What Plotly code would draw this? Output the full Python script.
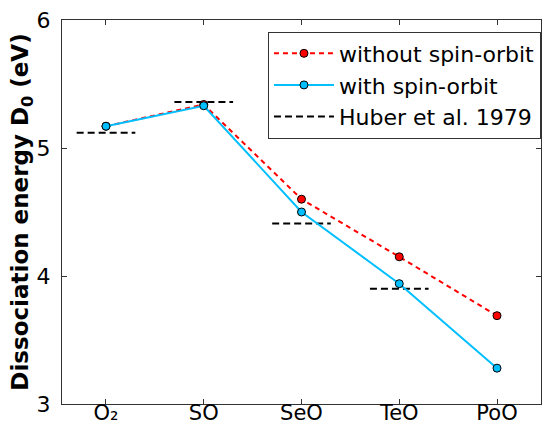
import plotly.graph_objects as go

# molecules and dissociation energies D0 (eV)
molecules = ["O\u2082", "SO", "SeO", "TeO", "PoO"]
without_so = [5.17, 5.34, 4.60, 4.15, 3.69]
with_so = [5.17, 5.33, 4.50, 3.94, 3.28]
huber_1979 = [5.12, 5.36, 4.41, 3.90, None]

pos = list(range(len(molecules)))
half = 0.3

# reference values drawn as short horizontal bars round each molecule
hx, hy = [], []
for i, v in zip(pos, huber_1979):
    if v is None:
        continue
    hx += [i - half, i + half, None]
    hy += [v, v, None]

fig = go.Figure()

fig.add_trace(go.Scatter(
    x=hx, y=hy, mode="lines", name="Huber et al. 1979",
    line=dict(color="black", width=2, dash="7px,4px"),
    legendrank=3,
))
fig.add_trace(go.Scatter(
    x=pos, y=without_so, mode="lines+markers", name="without spin-orbit",
    line=dict(color="#ff0000", width=2, dash="5px,4px"),
    marker=dict(color="#ff0000", size=8, line=dict(color="black", width=1)),
    legendrank=1,
))
fig.add_trace(go.Scatter(
    x=pos, y=with_so, mode="lines+markers", name="with spin-orbit",
    line=dict(color="#00bfff", width=2),
    marker=dict(color="#00bfff", size=8, line=dict(color="black", width=1)),
    legendrank=2,
))

axis_style = dict(
    showline=True, linecolor="#333333", linewidth=1, mirror="ticks",
    ticks="inside", ticklen=5, tickcolor="#333333",
    showgrid=False, zeroline=False, automargin=False,
)

fig.update_xaxes(
    range=[-0.45, 4.45], tickvals=pos, ticktext=molecules,
    tickfont=dict(size=21, color="black"), ticklabelstandoff=-10,
    **axis_style,
)
fig.update_yaxes(
    range=[3, 6], tickvals=[3, 4, 5, 6], ticktext=["3", "4", "5", "6"],
    tickfont=dict(size=22, color="black"), ticklabelstandoff=6,
    title=dict(text="<b>Dissociation energy D<sub>0</sub> (eV)</b>",
               font=dict(size=23, color="black"), standoff=0),
    **axis_style,
)

fig.update_layout(
    width=543, height=426,
    margin=dict(l=62, r=2, t=20, b=22),
    paper_bgcolor="white", plot_bgcolor="white",
    font=dict(family="DejaVu Sans", color="black"),
    legend=dict(
        x=0.43, y=0.97, xanchor="left", yanchor="top",
        bordercolor="#333333", borderwidth=1, bgcolor="white",
        font=dict(size=22), tracegroupgap=0, itemwidth=60,
    ),
)

fig.write_html("out.html", config={"displayModeBar": False},
               post_script="document.body.style.margin='0';")
